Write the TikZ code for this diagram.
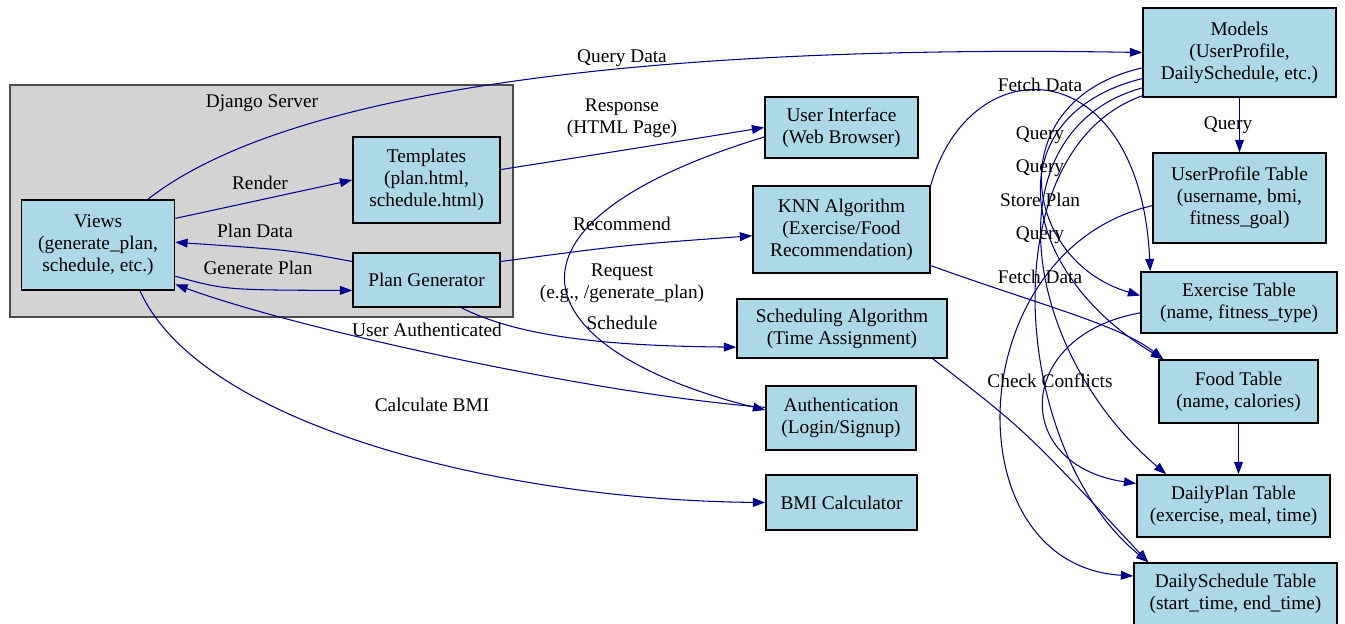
\documentclass[tikz,border=0pt]{standalone}
\usepackage{fontspec}
\setmainfont{Liberation Serif}
\usetikzlibrary{arrows.meta}
\definecolor{nodeblue}{HTML}{ADD8E6}
\definecolor{clustergray}{HTML}{D3D3D3}
\definecolor{edgeblue}{HTML}{00008B}

\begin{document}
\begin{tikzpicture}[
		font=\fontsize{11}{12.5}\selectfont,
		box/.style={draw, fill=nodeblue, line width=0.9pt, align=center, inner sep=2pt},
		flow/.style={draw=edgeblue, line width=0.6pt, -{Triangle[length=7pt,width=5pt]}},
		lbl/.style={align=center, inner sep=1pt}
	]
		\useasboundingbox (0,0) rectangle (26.9,-12.46);

		% Cluster
		\draw[fill=clustergray, draw=black!70, line width=0.8pt] (0.2,-1.7) rectangle (10.26,-6.34);
		\node[lbl] (djangolbl) at (5.24,-2.06) {Django Server};

		% Nodes
		\node[box, minimum width=3.06cm, minimum height=1.8cm] (views) at (1.96,-4.9) {Views\\(generate\_plan,\\schedule, etc.)};
		\node[box, minimum width=2.94cm, minimum height=1.72cm] (templates) at (8.53,-3.6) {Templates\\(plan.html,\\schedule.html)};
		\node[box, minimum width=2.94cm, minimum height=1.08cm] (plangen) at (8.53,-5.6) {Plan Generator};
		\node[box, minimum width=3.06cm, minimum height=1.22cm] (ui) at (16.83,-2.55) {User Interface\\(Web Browser)};
		\node[box, minimum width=3.54cm, minimum height=1.74cm] (knn) at (16.83,-4.59) {KNN Algorithm\\(Exercise/Food\\Recommendation)};
		\node[box, minimum width=4.2cm, minimum height=1.18cm] (sched) at (16.84,-6.57) {Scheduling Algorithm\\(Time Assignment)};
		\node[box, minimum width=3.0cm, minimum height=1.28cm] (auth) at (16.82,-8.36) {Authentication\\(Login/Signup)};
		\node[box, minimum width=3.02cm, minimum height=1.1cm] (bmi) at (16.83,-10.05) {BMI Calculator};
		\node[box, minimum width=3.86cm, minimum height=1.78cm] (models) at (24.79,-1.05) {Models\\(UserProfile,\\DailySchedule, etc.)};
		\node[box, minimum width=3.46cm, minimum height=1.8cm] (userprof) at (24.79,-3.96) {UserProfile Table\\(username, bmi,\\fitness\_goal)};
		\node[box, minimum width=3.92cm, minimum height=1.22cm] (exercise) at (24.78,-6.05) {Exercise Table\\(name, fitness\_type)};
		\node[box, minimum width=3.18cm, minimum height=1.26cm] (food) at (24.77,-7.83) {Food Table\\(name, calories)};
		\node[box, minimum width=3.86cm, minimum height=1.24cm] (dailyplan) at (24.67,-10.12) {DailyPlan Table\\(exercise, meal, time)};
		\node[box, minimum width=4.06cm, minimum height=1.24cm] (dailysched) at (24.71,-11.88) {DailySchedule Table\\(start\_time, end\_time)};

		% Edges
		\draw[flow] ([xshift=1cm]views.north) .. controls (6,-1.6) and (14,-0.9) .. (models.west);
		\draw[flow] (views.19) -- (templates.west);
		\draw[flow] (plangen.166) .. controls (5.8,-5.0) .. (views.2);
		\draw[flow] (views.338) .. controls (4.5,-5.8) .. (plangen.188);
		\draw[flow] (auth.172) .. controls (12,-7.9) and (6,-6.6) .. (views.333);
		\draw[flow] ([xshift=0.84cm]views.south) .. controls (4,-8.5) and (10,-10) .. (bmi.west);
		\draw[flow] (templates.8) .. controls (12.5,-3.0) .. (ui.west);
		\draw[flow] (ui.187) .. controls (9.5,-4.5) and (10.5,-7) .. (auth.174);
		\draw[flow] (plangen.14) .. controls (12.5,-4.9) .. (knn.184);
		\draw[flow] ([xshift=0.7cm]plangen.south) .. controls (10.5,-6.8) and (12.5,-6.92) .. (sched.190);
		\draw[flow] (knn.north east) .. controls (19.4,-0.9) and (22.8,-1.0) .. ([xshift=2mm]exercise.north west);
		\draw[flow] (knn.338) .. controls (20.8,-6.1) and (22.4,-6.5) .. ([xshift=1mm]food.north west);
		\draw[flow] (models.south) -- (userprof.north);
		\draw[flow] (models.189) .. controls (20.0,-2.0) and (20.4,-5.2) .. (exercise.176);
		\draw[flow] (models.195) .. controls (19.9,-2.3) and (20.3,-5.4) .. ([xshift=1mm]food.north west);
		\draw[flow] (models.200) .. controls (19.8,-2.6) and (20.4,-7.0) .. ([xshift=6mm]dailyplan.north west);
		\draw[flow] (models.204) .. controls (19.8,-3.0) and (20.2,-9.0) .. ([xshift=3mm]dailysched.north west);
		\draw[flow] ([xshift=-3mm]sched.south east) .. controls (20.5,-8.6) .. ([xshift=3mm]dailysched.north west);
		\draw[flow] (userprof.185) .. controls (19.2,-5.0) and (19.0,-11.3) .. (dailysched.170);
		\draw[flow] (exercise.186) .. controls (20.3,-6.7) and (20.2,-9.3) .. (dailyplan.167);
		\draw[flow] (food.south) -- (food.south |- dailyplan.north);

		% Edge labels
		\node[lbl] (lquerydata) at (12.44,-1.16) {Query Data};
		\node[lbl] (lrender) at (5.2,-3.66) {Render};
		\node[lbl] (lplandata) at (5.1,-4.62) {Plan Data};
		\node[lbl] (lgenplan) at (5.16,-5.36) {Generate Plan};
		\node[lbl] (luserauth) at (8.54,-6.6) {User Authenticated};
		\node[lbl] (lcalcbmi) at (8.64,-8.1) {Calculate BMI};
		\node[lbl] (lresponse) at (12.44,-2.37) {Response\\(HTML Page)};
		\node[lbl] (lrequest) at (12.44,-5.66) {Request\\(e.g., /generate\_plan)};
		\node[lbl] (lrecommend) at (12.44,-4.48) {Recommend};
		\node[lbl] (lschedule) at (12.44,-6.46) {Schedule};
		\node[lbl] (lfetcha) at (20.8,-1.7) {Fetch Data};
		\node[lbl] (lfetchb) at (20.8,-5.54) {Fetch Data};
		\node[lbl] (lqueryup) at (24.56,-2.5) {Query};
		\node[lbl] (lquerya) at (20.8,-2.7) {Query};
		\node[lbl] (lqueryb) at (20.8,-3.36) {Query};
		\node[lbl] (lstoreplan) at (20.8,-4.0) {Store Plan};
		\node[lbl] (lqueryc) at (20.8,-4.7) {Query};
		\node[lbl] (lconflicts) at (21,-7.62) {Check Conflicts};
	\end{tikzpicture}
\end{document}
